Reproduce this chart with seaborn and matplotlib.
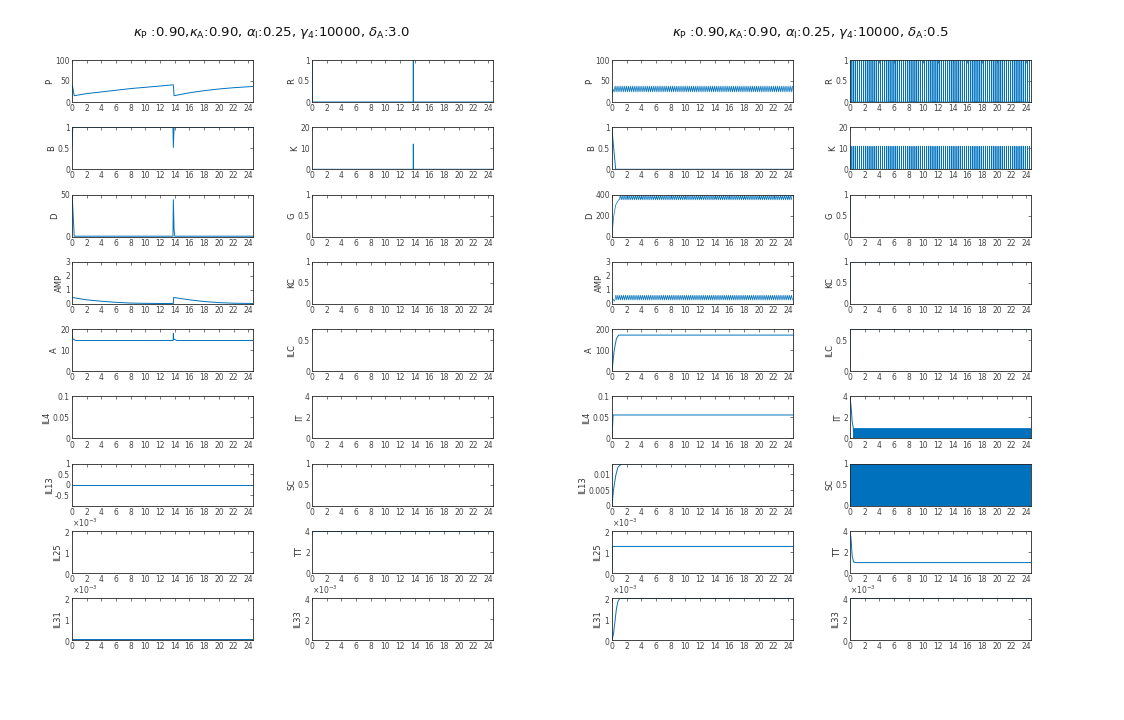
import numpy as np
import pandas as pd
import matplotlib
matplotlib.use("Agg")
import matplotlib.pyplot as plt
import seaborn as sns
from matplotlib.ticker import FuncFormatter, ScalarFormatter

# ---------------- data ----------------
T_END = 24.65
XTICKS = list(range(0, 25, 2))

TITLE_L = r"$\kappa_{\rm P}$ :0.90,$\kappa_{\rm A}$:0.90, $\alpha_{\rm I}$:0.25, $\gamma_4$:10000, $\delta_{\rm A}$:3.0"
TITLE_R = r"$\kappa_{\rm P}$ :0.90,$\kappa_{\rm A}$:0.90, $\alpha_{\rm I}$:0.25, $\gamma_4$:10000, $\delta_{\rm A}$:0.5"

COL_A_NAMES = ["P", "B", "D", "AMP", "A", "IL4", "IL13", "IL25", "IL31"]
COL_B_NAMES = ["R", "K", "G", "KC", "ILC", "IT", "SC", "TT", "IL33"]

# Left group (delta_A = 3.0)
P_L_T = [0, 0.05, 0.3, 2, 4, 6, 8, 10, 12, 13.8, 13.9, 16, 18, 20, 22, T_END]
P_L_Y = [30, 40, 15, 20, 24, 28, 32, 35, 38, 41, 15, 22, 27, 31, 34, 37]
B_L_T = [0, 0.1, 13.75, 13.8, 13.9, T_END]
B_L_Y = [0.55, 1, 1, 0.52, 1, 1]
D_L_T = [0, 0.05, 0.3, 13.75, 13.8, 13.9, 14.0, T_END]
D_L_Y = [50, 45, 0.5, 0.5, 44, 8, 0.5, 0.5]
AMP_L_T = [0, 2, 4, 6, 8, 10, 12, 13.8, 13.85, 16, 18, 20, 22, T_END]
AMP_L_Y = [0.46, 0.29, 0.19, 0.11, 0.06, 0.04, 0.03, 0.03, 0.46, 0.29, 0.17, 0.09, 0.05, 0.03]
A_L_T = [0, 0.1, 0.5, 13.78, 13.8, 13.85, 14.3, T_END]
A_L_Y = [18.5, 15.5, 14.6, 14.6, 18, 15.3, 14.6, 14.6]
IL4_L_T = [0, T_END]
IL4_L_Y = [0, 0]
IL13_L_T = [0, T_END]
IL13_L_Y = [0, 0]
IL25_L_T = [0, T_END]
IL25_L_Y = [0.00002, 0.00002]
IL31_L_T = [0, T_END]
IL31_L_Y = [0.00008, 0.00008]
R_L_T = [0, 0.02, 0.05, 13.78, 13.8, 13.82, T_END]
R_L_Y = [1, 1, 0, 0, 1, 0, 0]
K_L_T = [0, 13.78, 13.8, 13.83, T_END]
K_L_Y = [0, 0, 12, 0, 0]
G_L_T = [0, T_END]
G_L_Y = [0, 0]
KC_L_T = [0, T_END]
KC_L_Y = [0, 0]
ILC_L_T = [0, T_END]
ILC_L_Y = [0, 0]
IT_L_T = [0, T_END]
IT_L_Y = [0, 0]
SC_L_T = [0, T_END]
SC_L_Y = [0, 0]
TT_L_T = [0, T_END]
TT_L_Y = [4, 4]
IL33_L_T = [0, T_END]
IL33_L_Y = [0, 0]

# Right group (delta_A = 0.5): start-up part + repeating cycle
OSC_PERIOD = 0.26      # spacing of the fast pulses
DENSE_PERIOD = 0.04    # solid-looking bands (IT, SC)
P_R_START_T = [0, 0.15]
P_R_START_Y = [20, 30]
P_R_CYCLE = [24, 38]
R_R_CYCLE = [0, 1, 0]
K_R_CYCLE = [0, 11, 0]
D_R_START_T = [0, 0.2, 0.5, 0.9]
D_R_START_Y = [0, 180, 300, 350]
D_R_CYCLE = [350, 392]
AMP_R_START_T = [0, 0.3]
AMP_R_START_Y = [0.45, 0.2]
AMP_R_CYCLE = [0.28, 0.62]
IT_R_START_T = [0, 0.15, 0.3, 0.45]
IT_R_START_Y = [4, 3.0, 1.6, 1.0]
IT_R_CYCLE = [0, 0.9]
SC_R_CYCLE = [0, 1]

B_R_T = [0, 0.1, 0.5, T_END]
B_R_Y = [1, 0.75, 0, 0]
A_R_T = [0, 0.3, 0.6, 0.9, T_END]
A_R_Y = [0, 100, 155, 172, 172]
IL4_R_T = [0, 0.15, T_END]
IL4_R_Y = [0, 0.056, 0.056]
IL13_R_T = [0, 0.2, 0.5, 0.8, 1.3, T_END]
IL13_R_Y = [0, 0.005, 0.0095, 0.0122, 0.0133, 0.0133]
IL25_R_T = [0, 0.05, T_END]
IL25_R_Y = [0, 0.00127, 0.00127]
IL31_R_T = [0, 0.2, 0.4, 0.6, 0.8, 1.05, T_END]
IL31_R_Y = [0, 0.0003, 0.0009, 0.0015, 0.00185, 0.002, 0.002]
G_R_T = [0, 0.02, T_END]
G_R_Y = [0, 1, 1]
KC_R_T = [0, 0.02, T_END]
KC_R_Y = [0, 1, 1]
ILC_R_T = [0, 0.02, T_END]
ILC_R_Y = [0, 0.68, 0.68]
TT_R_T = [0, 0.15, 0.3, 0.5, 0.8, T_END]
TT_R_Y = [4, 3.2, 1.6, 1.05, 1.0, 1.0]
IL33_R_T = [0, 0.02, T_END]
IL33_R_Y = [0, 0.004, 0.004]

# axis ranges / ticks
YLIM = {
    "P": ((0, 100), [0, 50, 100]), "B": ((0, 1), [0, 0.5, 1]),
    "AMP": ((0, 3), [0, 1, 2, 3]), "IL4": ((0, 0.1), [0, 0.05, 0.1]),
    "IL25": ((0, 0.002), [0, 0.001, 0.002]), "IL31": ((0, 0.002), [0, 0.001, 0.002]),
    "R": ((0, 1), [0, 0.5, 1]), "K": ((0, 20), [0, 10, 20]), "G": ((0, 1), [0, 0.5, 1]),
    "KC": ((0, 1), [0, 0.5, 1]), "ILC": ((0, 0.68), [0, 0.5]), "IT": ((0, 4), [0, 2, 4]),
    "SC": ((0, 1), [0, 0.5, 1]), "TT": ((0, 4), [0, 2, 4]),
    "IL33": ((0, 0.004), [0, 0.002, 0.004]),
}
YLIM_L = {"D": ((0, 50), [0, 50]), "A": ((0, 20), [0, 10, 20]),
          "IL13": ((-1, 1), [-0.5, 0, 0.5, 1])}
YLIM_R = {"D": ((0, 400), [0, 200, 400]), "A": ((0, 200), [0, 100, 200]),
          "IL13": ((0, 0.0133), [0, 0.005, 0.01])}
SCI = {"IL25", "IL31", "IL33"}


# ---------------- helpers ----------------
def osc(t0, period, cycle):
    if len(cycle) == 3:  # narrow pulse: up and straight back down
        starts = np.arange(t0, T_END, period)
        t = np.repeat(starts, 3) + np.tile([0, 0.0001, 0.004], len(starts))
        y = np.tile(cycle, len(starts))
        return t, y
    t = np.arange(t0, T_END, period / 2)
    y = np.resize(np.array(cycle, dtype=float), len(t))
    return t, y


def joined(start_t, start_y, t0, period, cycle):
    t, y = osc(t0, period, cycle)
    return np.concatenate([start_t, t]), np.concatenate([start_y, y])


SERIES_L = {
    "P": (P_L_T, P_L_Y), "B": (B_L_T, B_L_Y), "D": (D_L_T, D_L_Y),
    "AMP": (AMP_L_T, AMP_L_Y), "A": (A_L_T, A_L_Y), "IL4": (IL4_L_T, IL4_L_Y),
    "IL13": (IL13_L_T, IL13_L_Y), "IL25": (IL25_L_T, IL25_L_Y), "IL31": (IL31_L_T, IL31_L_Y),
    "R": (R_L_T, R_L_Y), "K": (K_L_T, K_L_Y), "G": (G_L_T, G_L_Y), "KC": (KC_L_T, KC_L_Y),
    "ILC": (ILC_L_T, ILC_L_Y), "IT": (IT_L_T, IT_L_Y), "SC": (SC_L_T, SC_L_Y),
    "TT": (TT_L_T, TT_L_Y), "IL33": (IL33_L_T, IL33_L_Y),
}
SERIES_R = {
    "P": joined(P_R_START_T, P_R_START_Y, 0.3, OSC_PERIOD, P_R_CYCLE),
    "B": (B_R_T, B_R_Y),
    "D": joined(D_R_START_T, D_R_START_Y, 1.0, OSC_PERIOD, D_R_CYCLE),
    "AMP": joined(AMP_R_START_T, AMP_R_START_Y, 0.4, OSC_PERIOD, AMP_R_CYCLE),
    "A": (A_R_T, A_R_Y), "IL4": (IL4_R_T, IL4_R_Y), "IL13": (IL13_R_T, IL13_R_Y),
    "IL25": (IL25_R_T, IL25_R_Y), "IL31": (IL31_R_T, IL31_R_Y),
    "R": osc(0.0, OSC_PERIOD, R_R_CYCLE),
    "K": osc(0.0, OSC_PERIOD, K_R_CYCLE),
    "G": (G_R_T, G_R_Y), "KC": (KC_R_T, KC_R_Y), "ILC": (ILC_R_T, ILC_R_Y),
    "IT": joined(IT_R_START_T, IT_R_START_Y, 0.5, DENSE_PERIOD, IT_R_CYCLE),
    "SC": osc(0.0, DENSE_PERIOD, SC_R_CYCLE),
    "TT": (TT_R_T, TT_R_Y), "IL33": (IL33_R_T, IL33_R_Y),
}
THIN = {"R", "K", "P", "D", "AMP"}

# ---------------- figure ----------------
sns.set_theme(style="white")
plt.rcParams["font.family"] = ["DejaVu Sans"]
plt.rcParams["mathtext.fontset"] = "dejavusans"

W, H = 1124, 720
fig = plt.figure(figsize=(W / 100, H / 100), dpi=100)
LINE = "#0072BD"
AXC = "#262626"

COL_LEFT = [72, 312, 612, 850]
AX_W = 181
AX_H = 42
ROW_TOP = [60 + 67.3 * i for i in range(9)]

fmt_g = FuncFormatter(lambda v, p: f"{v:g}")

for gi, (series, extra) in enumerate([(SERIES_L, YLIM_L), (SERIES_R, YLIM_R)]):
    for ci, names in enumerate([COL_A_NAMES, COL_B_NAMES]):
        left = COL_LEFT[gi * 2 + ci]
        for ri, name in enumerate(names):
            top = ROW_TOP[ri]
            ax = fig.add_axes([left / W, 1 - (top + AX_H) / H, AX_W / W, AX_H / H])
            t, y = series[name]
            df = pd.DataFrame({"t": np.asarray(t, float), "y": np.asarray(y, float)})
            lw = 0.5 if (gi == 1 and name in THIN) else 0.7
            sns.lineplot(data=df, x="t", y="y", ax=ax, color=LINE, linewidth=lw,
                         estimator=None, sort=False, legend=False)
            lim, ticks = extra.get(name, YLIM.get(name))
            ax.set_xlim(0, T_END)
            ax.set_ylim(*lim)
            ax.set_xticks(XTICKS)
            ax.set_yticks(ticks)
            ax.xaxis.set_major_formatter(fmt_g)
            if name in SCI:
                sf = ScalarFormatter(useMathText=True)
                sf.set_powerlimits((0, 0))
                ax.yaxis.set_major_formatter(sf)
                ax.yaxis.get_offset_text().set_fontsize(5.5)
                ax.yaxis.get_offset_text().set_color("#444444")
            else:
                ax.yaxis.set_major_formatter(fmt_g)
            ax.set_xlabel("")
            ax.set_ylabel(name, fontsize=6, color="#333333", labelpad=1)
            ax.tick_params(direction="in", length=2.5, width=0.5, top=True, right=True,
                           labelsize=5.5, pad=1.5, colors="#444444")
            for sp in ax.spines.values():
                sp.set_color(AXC)
                sp.set_linewidth(0.6)
                sp.set_visible(True)

fig.text(272 / W, 1 - 33 / H, TITLE_L, ha="center", va="center", fontsize=9.5, color="#111111")
fig.text(810 / W, 1 - 33 / H, TITLE_R, ha="center", va="center", fontsize=9.5, color="#111111")

fig.savefig("out.png", dpi=100, facecolor="white")
